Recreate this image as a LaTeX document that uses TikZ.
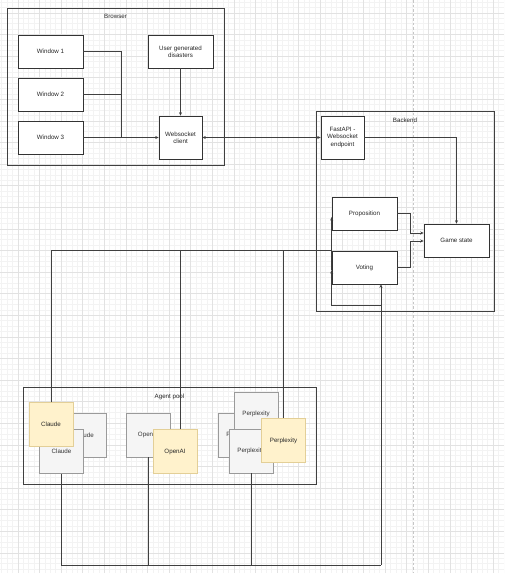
\documentclass[tikz,border=0pt]{standalone}
\usepackage{fontspec}
\setmainfont{Liberation Sans}
\usetikzlibrary{arrows.meta}
\definecolor{gridminor}{HTML}{F3F3F3}
\definecolor{gridmajor}{HTML}{E2E2E2}
\definecolor{grayfill}{HTML}{F5F5F5}
\definecolor{graystroke}{HTML}{9A9A9A}
\definecolor{graytext}{HTML}{333333}
\definecolor{yelfill}{HTML}{FFF2CC}
\definecolor{yelstroke}{HTML}{E3CF97}
\tikzset{
  base/.style={draw=black!80, line width=0.6pt, inner sep=1pt, align=center,
    font=\fontsize{6.2}{7.4}\selectfont, text=black!85},
  box/.style={base, fill=white},
  sq/.style={minimum width=44pt, minimum height=44pt},
  graybox/.style={base, sq, fill=grayfill, draw=graystroke, text=graytext},
  yelbox/.style={base, sq, fill=yelfill, draw=yelstroke, text=black!85},
  group/.style={draw=black!75, line width=0.6pt, inner sep=0pt},
  grouplabel/.style={font=\fontsize{6.2}{7.4}\selectfont, text=black!85, anchor=north, yshift=-3.5pt},
  wire/.style={draw=black!75, line width=0.6pt},
  arr/.style={wire, -{Stealth[length=3.5pt,width=3pt]}},
  darr/.style={wire, {Stealth[length=3.5pt,width=3pt]}-{Stealth[length=3.5pt,width=3pt]}}
}
\begin{document}
\begin{tikzpicture}[x=1pt,y=-1pt]
\useasboundingbox (0,0) rectangle (504,573);
\fill[white] (0,0) rectangle (504,573);
% grid
\begin{scope}
\clip (0,0) rectangle (504,573);
\foreach \i in {0,...,93} \draw[gridminor, line width=0.4pt] ({1.5+5.4*\i},0) -- ({1.5+5.4*\i},573);
\foreach \i in {0,...,105} \draw[gridminor, line width=0.4pt] (0,{1.9+5.4*\i}) -- (504,{1.9+5.4*\i});
\foreach \i in {0,...,23} \draw[gridmajor, line width=0.4pt] ({17.7+21.6*\i},0) -- ({17.7+21.6*\i},573);
\foreach \i in {-1,...,26} \draw[gridmajor, line width=0.4pt] (0,{12.7+21.6*\i}) -- (504,{12.7+21.6*\i});
\draw[gray!45, line width=0.8pt, dash pattern=on 2.5pt off 2pt] (413,0) -- (413,573);
\end{scope}

% containers
\node[group, minimum width=217pt, minimum height=157pt, label={[grouplabel]north:Browser}] (browser) at (115.5,86.5) {};
\node[group, minimum width=178pt, minimum height=200pt, label={[grouplabel]north:Backend}] (backend) at (405,211) {};
\node[group, minimum width=293pt, minimum height=97pt, label={[grouplabel]north:Agent pool}] (pool) at (169.5,435.5) {};

% browser
\node[box, minimum width=65pt, minimum height=33pt] (w1) at (50.5,51.5) {Window 1};
\node[box, minimum width=65pt, minimum height=33pt] (w2) at (50.5,94.5) {Window 2};
\node[box, minimum width=65pt, minimum height=33pt] (w3) at (50.5,137.5) {Window 3};
\node[box, minimum width=65pt, minimum height=33pt] (ugd) at (180.5,51.5) {User generated\\disasters};
\node[box, minimum width=43pt, minimum height=43pt] (wsc) at (180.5,137.5) {Websocket\\client};

% backend
\node[box, minimum width=43pt, minimum height=43pt] (fast) at (342.5,137.5) {FastAPI -\\Websocket\\endpoint};
\node[box, minimum width=65pt, minimum height=33pt] (prop) at (364.5,213.5) {Proposition};
\node[box, minimum width=65pt, minimum height=33pt] (vote) at (364.5,267.5) {Voting};
\node[box, minimum width=65pt, minimum height=33pt] (game) at (456.5,240.5) {Game state};

% agents
\node[graybox] (c3) at (84,435) {Claude};
\node[graybox] (c2) at (61.5,451.5) {Claude};
\node[yelbox] (c1) at (51,424.5) {Claude};
\node[graybox] (o2) at (148.5,435) {OpenAI};
\node[yelbox] (o1) at (175,451.5) {OpenAI};
\node[graybox] (p1) at (240,435) {Perplexity};
\node[graybox] (p2) at (256,414) {Perplexity};
\node[graybox] (p3) at (251,451) {Perplexity};
\node[yelbox] (p4) at (283.5,440.5) {Perplexity};

\coordinate (j) at (121,137.5);
\coordinate (bus) at (381,565);
\coordinate (br) at (381,305);

% browser wires
\draw[wire] (w1.east) -| (j);
\draw[wire] (w2.east) -- (j |- w2.east);
\draw[arr] (w3.east) -- (wsc.west);
\draw[arr] (ugd.south) -- (wsc.north);
\draw[darr] (wsc.east) -- (fast.west);

% backend wires
\draw[arr] (fast.east) -| (game.north);
\draw[arr] (prop.east) -- ++(13,0) |- ([yshift=7.5pt]game.west);
\draw[arr] (vote.east) -- ++(13,0) |- ([yshift=-0.5pt]game.west);

% agent wires (top)
\draw[wire] (c1.north) |- (vote.north west);
\draw[wire] ([xshift=5pt]o1.north) -- ([xshift=5pt]o1.north |- vote.north west);
\draw[wire] (p4.north) -- (p4.north |- vote.north west);

% agent wires (bottom)
\draw[wire] (c2.south) |- (bus);
\draw[wire] (o2.south) -- (o2.south |- bus);
\draw[wire] (p3.south) -- (p3.south |- bus);
\draw[arr] (bus) -- (bus |- vote.south);
\draw[arr] (br) -| ([yshift=-2.5pt]vote.west);
\draw[arr] ([yshift=-2.5pt]vote.west) -- ([yshift=-3.5pt]prop.west);
\end{tikzpicture}
\end{document}
